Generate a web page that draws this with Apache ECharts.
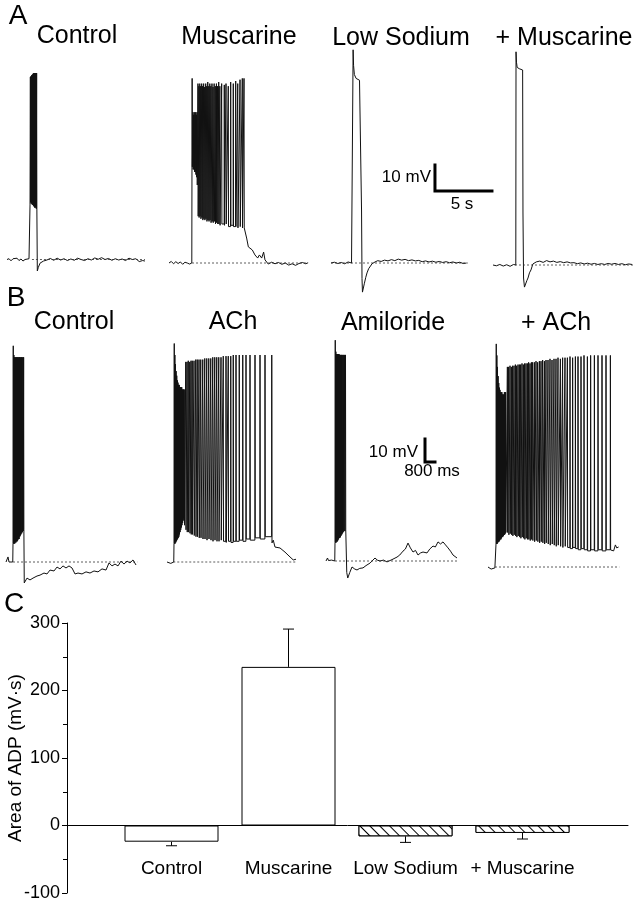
<!DOCTYPE html>
<html>
<head>
<meta charset="utf-8">
<script src="https://cdn.jsdelivr.net/npm/echarts@6/dist/echarts.min.js"></script>
<style>
html, body { margin: 0; background: #fff; }
#main { width: 638px; height: 900px; }
</style>
</head>
<body>
<div id="main"></div>
<script>
// traces: time in s, membrane potential in mV relative to the resting level
// spike lists are [time, peak, trough]

// A - Control
var aCtrlPre = [[0,0],[0.18,0.3],[0.35,-0.5],[0.53,0.3],[0.7,-0.2],[0.88,0.5],[1.05,-0.4],[1.23,0.2],[1.4,-0.6],[1.58,0],[1.75,-0.2],[1.93,0.3],[2.0,0],[2.02,21]];
var aCtrlSpikes = [[2.05,70.2,22],[2.1,70.5,21.5],[2.15,70.8,21.5],[2.2,71,21],[2.25,71.2,21],[2.3,71.5,20.5],[2.35,71.7,20.5],[2.4,71.7,20],[2.45,71.7,20],[2.5,71.7,20],[2.55,71.7,19.5],[2.6,71.7,19.5]];
var aCtrlPost = [[2.66,-4.4],[2.75,-3.0],[2.9,-1.4],[3.2,-0.6],[3.5,-0.2],[3.8,0.4],[4.1,-0.3],[4.4,0.5],[4.7,-0.2],[5.0,0.3],[5.3,-0.4],[5.6,0.2],[5.9,-0.3],[6.2,0.5],[6.5,0],[6.8,-0.4],[7.1,0.3],[7.4,-0.2],[7.7,0.6],[8.0,0.1],[8.3,0.7],[8.6,0],[8.9,0.4],[9.2,-0.3],[9.5,0.3],[9.8,-0.2],[10.1,0.2],[10.4,-0.4],[10.7,0.5],[11.0,0],[11.3,0.3],[11.6,-0.8],[11.9,-0.4],[12.1,-0.6]];

// A - Muscarine
var aMusPre = [[0,0],[0.2,0.6],[0.4,-0.3],[0.6,0.5],[0.8,-0.2],[1.0,0.4],[1.2,-0.5],[1.4,0.3],[1.6,0],[1.8,-0.4],[2.0,0]];
var aMusSpikes = [[2.03,71,37],[2.10,58,36],[2.16,57,36],[2.22,58,35],[2.28,57,35],[2.34,58,34],[2.40,57,33],[2.46,58,30],
  [2.54,69,18],[2.62,68,17.5],[2.70,69,18],[2.78,68,17],[2.87,69,17.5],[2.95,68,16.5],[3.04,69,17],[3.13,67.7,16.5],[3.22,69,17],[3.31,68,16],[3.40,69.6,16.5],[3.49,68,16],[3.58,69,16.5],[3.67,68,15.5],[3.77,69,16],[3.86,67.7,15.5],[3.96,69,16],[4.06,68,15],[4.16,69,15.5],[4.26,68,15],[4.36,69.6,15],[4.46,68,14.5],
  [4.62,69,15],[4.85,68.5,14.5],[5.0,69,15],[5.2,68,14],[5.41,69.6,14.5],[5.64,69,14],[5.85,70,14],[6.03,69,13.5],[6.23,70.5,14],[6.43,71,13.5],[6.58,71,13.5]];
var aMusPost = [[6.67,13],[6.81,9.6],[6.96,6.2],[7.1,6.9],[7.31,5],[7.54,3.1],[7.78,1.9],[7.93,3.1],[8.13,1.9],[8.3,4.2],[8.42,1.2],[8.71,-0.4],[9.0,0.3],[9.3,-0.3],[9.6,0.2],[9.9,-0.5],[10.2,0],[10.5,-0.8],[10.8,-0.3],[11.1,-0.9],[11.4,-0.2],[11.7,0.2],[12.0,-0.3],[12.2,0.1]];

// A - Low Sodium
var aLowNa = [[0,0],[0.3,0.3],[0.6,-0.2],[0.9,0.2],[1.2,-0.3],[1.5,0.4],[1.8,0],[1.93,0],
  [1.94,82],[1.98,76],[2.05,72.5],[2.2,71],[2.5,70.3],[2.66,70],[2.68,20],[2.72,-6],[2.76,-11.2],[2.82,-10.5],[2.92,-8],[3.05,-5.5],[3.16,-3.8],[3.3,-2.2],[3.42,-1.5],[3.6,-0.3],[3.86,0.4],
  [4.1,0.9],[4.4,0.6],[4.7,1.1],[5.0,0.8],[5.3,1.3],[5.6,0.9],[5.9,1.5],[6.2,1.1],[6.5,1.4],[6.8,0.9],[7.1,1.2],[7.4,0.8],[7.7,1.0],[8.0,0.5],[8.3,0.8],[8.6,0.4],[8.9,0.7],[9.2,0.3],[9.5,0.6],[9.8,0.2],[10.1,0.5],[10.4,0.1],[10.7,0.4],[11.0,0],[11.3,0.3],[11.6,-0.2],[11.9,0]];

// A - Low Sodium + Muscarine
var aLowNaMus = [[0,0],[0.3,-0.3],[0.6,0.2],[0.9,-0.4],[1.2,0.1],[1.5,-0.5],[1.8,0.2],[2.0,0],
  [2.02,82],[2.06,78],[2.12,76],[2.3,75.5],[2.6,75],[2.63,20],[2.68,-5],[2.76,-8.5],[2.85,-8],[2.97,-6],[3.07,-5],[3.2,-3],[3.33,-1.9],[3.5,0.4],[3.8,1.2],[4.1,1.5],
  [4.4,1.0],[4.7,1.7],[5.0,1.2],[5.3,1.5],[5.6,1.0],[5.9,1.3],[6.2,0.9],[6.5,1.2],[6.8,0.8],[7.1,0.9],[7.4,0.5],[7.7,0.8],[8.0,0.4],[8.3,0.7],[8.6,0.3],[8.9,0.6],[9.2,0.2],[9.5,0.5],[9.8,0.2],[10.1,0.6],[10.4,0.3],[10.7,0.6],[11.0,0.2],[11.3,0.5],[11.6,0.1],[11.9,0.4],[12.2,0.2]];

// B - Control
var bCtrlPre = [[0,0],[0.1,0.3],[0.16,2.2],[0.24,0],[0.4,-0.2],[0.54,0],[0.56,8]];
var bCtrlSpikes = [[0.58,94,8],[0.63,90,8],[0.68,89,8],[0.73,89,8.5],[0.78,89,8.5],[0.83,89,9],[0.88,89,9],[0.93,89,9.5],[0.98,89,10],[1.03,89,10],[1.08,89,11],[1.13,89,11.5],[1.18,89,12],[1.24,89,12.5],[1.30,89,13],[1.36,89,13.5],[1.41,89,14]];
var bCtrlPost = [[1.46,-9.1],[1.68,-7.0],[1.92,-7.8],[2.16,-7.0],[2.48,-6.1],[2.72,-5.7],[3.04,-4.8],[3.28,-5.2],[3.52,-3.5],[3.84,-3.9],[4.08,-2.2],[4.32,-3.0],[4.56,-1.7],[4.8,-2.6],[5.04,-1.7],[5.28,-2.6],[5.52,-5.2],[5.76,-4.8],[6.08,-5.2],[6.4,-4.3],[6.72,-4.8],[7.04,-3.9],[7.36,-4.3],[7.68,-3.0],[8.0,-3.5],[8.24,-0.4],[8.48,-1.7],[8.72,-0.9],[8.96,-1.7],[9.2,0.4],[9.44,-0.9],[9.68,0.4],[9.92,-0.4],[10.16,0.9],[10.4,-1.3]];

// B - ACh
var bAchPre = [[0,0],[0.15,-0.4],[0.3,-0.6],[0.45,0],[0.54,0],[0.56,8]];
var bAchSpikes = [[0.58,95,8],[0.63,90,8],[0.68,86,8.5],[0.73,83,9],[0.78,81,9.5],[0.83,79,10],[0.88,78,10.5],[0.93,77,11],[0.98,77,12],[1.03,76,13],[1.08,76,14],[1.13,76,15],[1.18,76,16],[1.23,75,17],[1.28,75,18],[1.33,75,19],[1.38,75,16],
  [1.50,87,14],[1.60,87,13],[1.70,87.5,13],[1.82,87,12.5],[1.92,87.5,12],[2.02,87.5,12],[2.16,87.5,11.5],[2.30,88,11],[2.42,88,11],[2.56,88,10.5],[2.70,88,10.5],[2.86,88,10],[3.02,88.5,10],[3.18,88.5,9.5],[3.34,88.5,10],[3.50,88.5,9.5],[3.66,89,9],[3.82,89,9.5],[3.98,89,9],[4.14,89,9],[4.32,89,9.5],[4.50,89.5,9],[4.72,89.5,8.5],[4.90,89.5,9],[5.10,89.5,8.5],[5.30,90,9],[5.52,90,9],[5.78,90,9.5],[6.06,90,9],[6.32,90,10],[6.64,90,9.5],[7.04,90,10.5],[7.44,90,10],[7.84,90,11],[8.38,90,8.3]];
var bAchPost = [[8.5,9.5],[8.64,6.5],[8.8,7.2],[9.04,6.1],[9.2,5.3],[9.44,4.3],[9.6,3.5],[9.84,2.2],[9.95,3],[10.1,0.9],[10.2,1.7],[10.32,1.2]];

// B - Amiloride
var bAmiPre = [[0,0],[0.08,0.4],[0.12,1.3],[0.2,0.2],[0.3,-0.4],[0.45,0.4],[0.6,0],[0.7,0],[0.72,8]];
var bAmiSpikes = [[0.74,96,8],[0.79,91,8],[0.84,90,8.5],[0.89,90,8.5],[0.94,90,9],[0.99,90,9.5],[1.04,90,10],[1.09,89.6,10],[1.14,89.6,10.5],[1.19,89.6,11],[1.24,89.6,11.5],[1.30,89.6,12],[1.36,89.6,12.5],[1.42,89.6,13],[1.49,89.6,13],[1.56,89.6,13.5]];
var bAmiPost = [[1.62,13],[1.66,-5],[1.74,-7.4],[1.9,-5],[2.08,-2.6],[2.3,-3.5],[2.48,-3.9],[2.7,-3.2],[2.96,-3.0],[3.2,-2],[3.52,-0.9],[3.92,1.3],[4.1,0.4],[4.32,0],[4.6,0.4],[4.88,-0.4],[5.28,0.6],[5.68,1.7],[5.9,2.6],[6.16,4.3],[6.35,5.2],[6.56,7.8],[6.75,5.7],[6.96,3.9],[7.16,4.6],[7.36,2.6],[7.56,3.5],[7.76,3.9],[8.08,3.5],[8.3,5.2],[8.56,6.5],[8.75,6.1],[8.96,8.3],[9.16,7.4],[9.36,8.3],[9.56,7.0],[9.76,5.7],[9.96,4.3],[10.16,2.6],[10.3,3.2],[10.48,1.3]];

// B - Amiloride + ACh
var bAmiAchPre = [[0,0],[0.1,-0.4],[0.25,-0.9],[0.4,-0.4],[0.55,-0.4],[0.62,0],[0.64,10]];
var bAmiAchSpikes = [[0.66,97,10],[0.71,92,10],[0.76,87,10.5],[0.81,83,11],[0.86,80,11],[0.91,78,11.5],[0.96,77,12],[1.01,76,12],[1.06,76,12.5],[1.11,76,13],[1.16,75,13],[1.21,75,13.5],[1.26,75,14],[1.31,76,14],[1.36,76,14.5],[1.41,76,15],
  [1.55,87,15],[1.65,87,14],[1.76,87.5,14.5],[1.87,87,14],[1.97,87.5,13.5],[2.08,87.5,14],[2.19,88,13.5],[2.29,87.5,13],[2.40,88,13.5],[2.51,88,13],[2.61,88,12.5],[2.72,88.5,13],[2.83,88,12.5],[2.93,88.5,12],[3.04,88.5,12.5],[3.15,88.5,12],[3.25,89,12],[3.36,88.5,11.5],[3.47,89,12],[3.57,89,11.5],[3.71,89,11],[3.84,89.5,11.5],[3.97,89,11],[4.11,89.5,10.5],[4.24,89.5,11],[4.37,90,10.5],[4.51,89.5,10],[4.64,90,10.5],[4.80,90,10],[4.96,90.5,9.5],[5.12,90,10],[5.28,90.5,9.5],[5.44,90.5,9],[5.60,91,9.5],[5.79,90.5,9],[5.97,91,8.5],[6.16,91,9],[6.35,91,8.5],[6.56,91.5,8],[6.77,91,8.5],[6.99,91.5,8],[7.20,91.5,7.5],[7.44,91.5,8],[7.68,92,7.5],[7.95,91.5,7],[8.21,92,7.5],[8.51,92,7],[8.80,92,7.5],[9.12,92,7],[9.44,92,7.5],[9.79,92,7.4]];
var bAmiAchPost = [[9.95,8.0],[10.05,7.0],[10.19,9.6],[10.3,8.3],[10.45,8.7]];

// dotted resting-level lines [from, to] in s
var aDash = [[2.19,12.1],[2.02,12.2],[0,12.0],[1.93,12.3]];
var bDash = [[0.56,10.5],[0.5,10.4],[0.72,10.6],[0.56,10.5]];

// scale bars
var scaleA = {mv: 10, s: 5, label: ['10 mV', '5 s']};
var scaleB = {mv: 10, s: 0.8, label: ['10 mV', '800 ms']};

// C - area of ADP (mV·s)
var adpNames = ['Control', 'Muscarine', 'Low Sodium', '+ Muscarine'];
var adpMean = [-24, 235, -16, -11];
var adpErr = [6, 56, 9, 9];
var adpTicks = {min: -100, max: 300, step: 100};

var titlesA = ['Control', 'Muscarine', 'Low Sodium', '+ Muscarine'];
var titlesB = ['Control', 'ACh', 'Amiloride', '+ ACh'];

function train(list) {
  var out = [];
  list.forEach(function (s, i) {
    if (i > 0) out.push([s[0] - 0.01, list[i - 1][2]]);
    out.push([s[0], s[1]]);
    out.push([s[0] + 0.02, s[2]]);
  });
  return out;
}

var FONT = '"Liberation Sans", Arial, Helvetica, sans-serif';
var rowA = {pxMv: 2.6, pxS: 11.4, yMin: -14, yMax: 86, xMax: 12.4};
var rowB = {pxMv: 2.3, pxS: 12.5, yMin: -12, yMax: 98, xMax: 10.6};

var panels = [
  {row: rowA, left: 7, base: 259.5, data: aCtrlPre.concat(train(aCtrlSpikes), aCtrlPost), dash: aDash[0]},
  {row: rowA, left: 169, base: 263, data: aMusPre.concat(train(aMusSpikes), aMusPost), dash: aDash[1]},
  {row: rowA, left: 331, base: 263, xMax: 15, data: aLowNa, dash: aDash[2], scale: scaleA, anchor: [9.12, 27.7]},
  {row: rowA, left: 493, base: 265, data: aLowNaMus, dash: aDash[3]},
  {row: rowB, left: 6, base: 562, data: bCtrlPre.concat(train(bCtrlSpikes), bCtrlPost), dash: bDash[0]},
  {row: rowB, left: 167, base: 562, data: bAchPre.concat(train(bAchSpikes), bAchPost), dash: bDash[1]},
  {row: rowB, left: 326, base: 561, data: bAmiPre.concat(train(bAmiSpikes), bAmiPost), dash: bDash[2], scale: scaleB, anchor: [7.92, 43]},
  {row: rowB, left: 488, base: 567, data: bAmiAchPre.concat(train(bAmiAchSpikes), bAmiAchPost), dash: bDash[3]}
];

var grids = [], xAxes = [], yAxes = [], series = [];
panels.forEach(function (p, i) {
  var r = p.row;
  var xMax = p.xMax || r.xMax;
  grids.push({left: p.left, top: p.base - r.yMax * r.pxMv, width: xMax * r.pxS, height: (r.yMax - r.yMin) * r.pxMv,
    containLabel: false, outerBoundsMode: 'none'});
  xAxes.push({gridIndex: i, type: 'value', min: 0, max: xMax, show: false});
  yAxes.push({gridIndex: i, type: 'value', min: r.yMin, max: r.yMax, show: false});
  series.push({
    type: 'line', xAxisIndex: i, yAxisIndex: i, data: p.data, showSymbol: false, clip: false,
    lineStyle: {color: '#111', width: 1}, silent: true
  });
  series.push({
    type: 'line', xAxisIndex: i, yAxisIndex: i, data: [[p.dash[0], 0], [p.dash[1], 0]], showSymbol: false,
    lineStyle: {color: '#333', width: 0.8, type: [2, 2]}, silent: true
  });
  if (p.scale) {
    var a = p.anchor;
    series.push({
      type: 'line', xAxisIndex: i, yAxisIndex: i, showSymbol: false, clip: false, silent: true,
      data: [[a[0], a[1] + p.scale.mv], [a[0], a[1]], [a[0] + p.scale.s, a[1]]],
      lineStyle: {color: '#000', width: 3, cap: 'square', join: 'miter'}
    });
  }
});

// C: visible y axis and zero line
var gi = grids.length;
grids.push({left: 67, top: 623, width: 561, height: 270, containLabel: false, outerBoundsMode: 'none'});
xAxes.push({gridIndex: gi, type: 'value', min: 0, max: 1, axisLine: {show: true, onZero: true, lineStyle: {color: '#000', width: 1}},
  axisTick: {show: false}, axisLabel: {show: false}, splitLine: {show: false}});
yAxes.push({gridIndex: gi, type: 'value', min: adpTicks.min, max: adpTicks.max, interval: adpTicks.step,
  name: 'Area of ADP (mV\u00b7s)', nameLocation: 'middle', nameGap: 42, nameRotate: 90, nameMoveOverlap: false,
  nameTextStyle: {fontFamily: FONT, fontSize: 19, color: '#000'},
  axisLine: {show: true, onZero: false, lineStyle: {color: '#000', width: 1}},
  axisTick: {show: true, length: 5, lineStyle: {color: '#000'}},
  minorTick: {show: true, splitNumber: 2, length: 4, lineStyle: {color: '#000'}},
  axisLabel: {fontFamily: FONT, fontSize: 18, color: '#000', margin: 7},
  splitLine: {show: false}});

// C: bars
var bi = grids.length;
grids.push({left: 113, top: 623, width: 468, height: 270, containLabel: false, outerBoundsMode: 'none'});
xAxes.push({gridIndex: bi, type: 'category', data: adpNames,
  axisLine: {show: false, onZero: false},
  axisTick: {show: false},
  axisLabel: {fontFamily: FONT, fontSize: 19, color: '#000', margin: -34, interval: 0, hideOverlap: false}});
yAxes.push({gridIndex: bi, type: 'value', min: adpTicks.min, max: adpTicks.max, show: false});

var hatch = {symbol: 'rect', symbolSize: 1, color: '#000', backgroundColor: '#fff',
  dashArrayX: [1, 0], dashArrayY: [1, 6], rotation: Math.PI / 4};

series.push({
  type: 'bar', xAxisIndex: bi, yAxisIndex: bi, barWidth: 94, silent: true,
  data: adpMean.map(function (v, i) {
    var item = {value: v, itemStyle: {color: '#fff', borderColor: '#000', borderWidth: 1}};
    if (i >= 2) item.itemStyle.decal = hatch;
    return item;
  })
});
series.push({
  type: 'custom', xAxisIndex: bi, yAxisIndex: bi, silent: true,
  data: adpMean.map(function (v, i) { return [i, v, v + (v < 0 ? -adpErr[i] : adpErr[i])]; }),
  renderItem: function (params, api) {
    var p0 = api.coord([api.value(0), api.value(1)]);
    var p1 = api.coord([api.value(0), api.value(2)]);
    var hw = 5.5;
    return {type: 'group', children: [
      {type: 'line', shape: {x1: p0[0], y1: p0[1], x2: p1[0], y2: p1[1]}, style: {stroke: '#000', lineWidth: 1}},
      {type: 'line', shape: {x1: p1[0] - hw, y1: p1[1], x2: p1[0] + hw, y2: p1[1]}, style: {stroke: '#000', lineWidth: 1}}
    ]};
  }
});

function txt(x, y, s, size, align) {
  align = align || 'center';
  return {type: 'text', x: x, y: y, silent: true,
    style: {text: s, font: size + 'px ' + FONT, fill: '#000', align: align, verticalAlign: 'middle',
      textAlign: align, textVerticalAlign: 'middle'}};
}

var graphic = [
  txt(18, 16, 'A', 28), txt(16, 298, 'B', 28), txt(14, 604, 'C', 28),
  txt(77, 36, titlesA[0], 25), txt(239, 37, titlesA[1], 25), txt(401, 38, titlesA[2], 25), txt(564, 38, titlesA[3], 25),
  txt(74, 322, titlesB[0], 25), txt(233, 322, titlesB[1], 25), txt(393, 323, titlesB[2], 25), txt(556, 323, titlesB[3], 25),
  txt(431, 177.5, scaleA.label[0], 17, 'right'), txt(462, 204, scaleA.label[1], 17),
  txt(418, 452.5, scaleB.label[0], 17, 'right'), txt(432, 471.5, scaleB.label[1], 17)
];

var myChart = echarts.init(document.getElementById('main'), null, {renderer: 'canvas'});
myChart.setOption({
  animation: false,
  backgroundColor: '#fff',
  grid: grids,
  xAxis: xAxes,
  yAxis: yAxes,
  series: series,
  graphic: graphic
});
</script>
</body>
</html>
